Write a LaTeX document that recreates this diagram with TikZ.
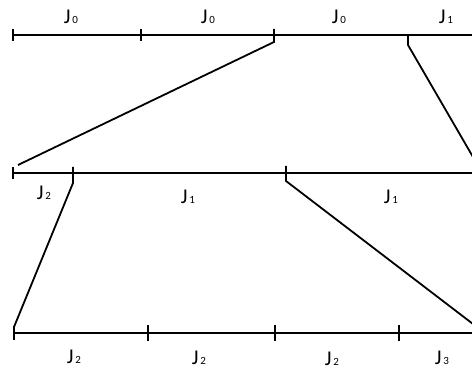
\documentclass[tikz,border=0pt]{standalone}
\usepackage{fontspec}
\setmainfont{Carlito}
\newcommand{\Jlab}[1]{J\hspace{1.8pt}{\fontsize{11}{11}\selectfont #1}}
\begin{document}
\begin{tikzpicture}[x=1pt,y=-1pt,
  ln/.style={line width=1.8pt,line cap=butt,line join=miter},
  lab/.style={anchor=base,inner sep=0pt,font=\fontsize{21}{21}\selectfont}]
\useasboundingbox (0,0) rectangle (472,374);
\begin{scope}
\clip (0,0) rectangle (472,374);
% top line
\coordinate (t0) at (13,35);
\coordinate (tE) at (474,35);
\draw[ln] (t0) -- (tE);
\draw[ln] (13,29) -- (13,41);
\draw[ln] (141,29) -- (141,41);
\coordinate (ta) at (274,29);
\coordinate (tb) at (274,42);
\coordinate (tc) at (408,35);
\coordinate (td) at (408,45);
% middle line
\coordinate (m0) at (13,173);
\coordinate (mE) at (474,173);
\draw[ln] (m0) -- (mE);
\draw[ln] (13,167) -- (13,179);
\coordinate (ma) at (73,167);
\coordinate (mb) at (73,183);
\coordinate (mc) at (286,166);
\coordinate (md) at (286,181);
\coordinate (mL) at (18,165);
% bottom line
\coordinate (b0) at (13,333);
\coordinate (bE) at (474,333);
\draw[ln] (b0) -- (bE);
\coordinate (bL) at (14,327);
\draw[ln] (14,326) -- (14,340);
\draw[ln] (148,325) -- (148,341);
\draw[ln] (275,325) -- (275,341);
\draw[ln] (399,325) -- (399,341);
% connectors
\coordinate (rT) at (473,157);
\coordinate (rB) at (473,324);
\draw[ln] (ta) -- (tb) -- (mL);
\draw[ln] (tc) -- (td) -- (rT);
\draw[ln] (ma) -- (mb) -- (bL);
\draw[ln] (mc) -- (md) -- (rB);
\end{scope}
% labels
\node[lab] (l1) at (71,24) {\Jlab{0}};
\node[lab] (l2) at (208,24) {\Jlab{0}};
\node[lab] (l3) at (339,24) {\Jlab{0}};
\node[lab] (l4) at (446,24) {\Jlab{1}};
\node[lab] (l5) at (44,200) {\Jlab{2}};
\node[lab] (l6) at (188,204) {\Jlab{1}};
\node[lab] (l7) at (391,204) {\Jlab{1}};
\node[lab] (l8) at (74,364) {\Jlab{2}};
\node[lab] (l9) at (199,365) {\Jlab{2}};
\node[lab] (l10) at (332,366) {\Jlab{2}};
\node[lab] (l11) at (442,365) {\Jlab{3}};
\end{tikzpicture}
\end{document}
